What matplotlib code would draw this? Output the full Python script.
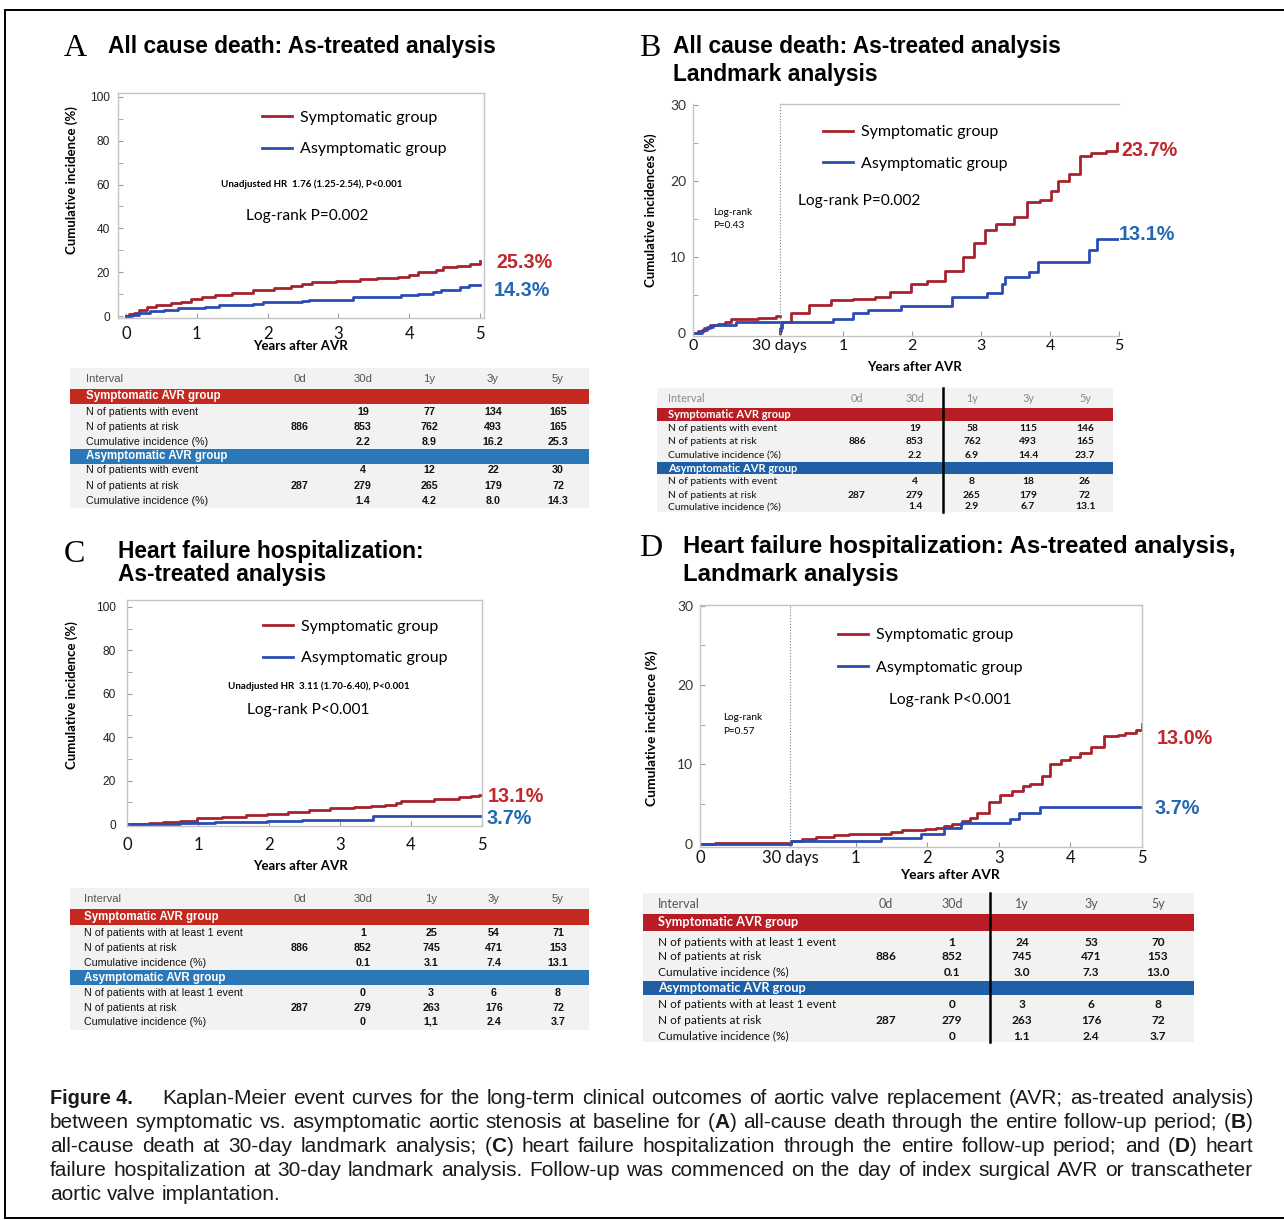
import numpy as np
import matplotlib
matplotlib.use("Agg")
import matplotlib.pyplot as plt
from matplotlib.patches import Rectangle
from matplotlib.lines import Line2D
from matplotlib.ticker import FixedLocator

# ---------------------------------------------------------------- data
LANDMARK_YR = 30 / 365.0

group_labels = ["Symptomatic group", "Asymptomatic group"]

# Panel A: all-cause death, whole follow-up (years, cumulative %)
A_sym_t = [0, 0.04, 0.12, 0.19, 0.29, 0.43, 0.63, 0.77, 0.92, 1.07, 1.26, 1.5, 1.8, 2.09,
           2.33, 2.48, 2.62, 2.96, 3.3, 3.55, 3.84, 3.99, 4.13, 4.38, 4.47, 4.67, 4.86, 5.0]
A_sym_v = [0, 0.8, 1.6, 2.8, 3.9, 5.0, 6.0, 6.6, 7.6, 8.5, 9.4, 10.6, 11.8, 12.6,
           13.5, 14.6, 15.4, 16.1, 16.7, 17.3, 18.0, 18.9, 20.0, 20.9, 22.2, 22.8, 23.6, 24.9]
A_asym_t = [0, 0.09, 0.19, 0.34, 0.53, 0.73, 1.11, 1.31, 1.8, 1.94, 2.48, 2.58, 3.21, 3.89,
            4.13, 4.33, 4.45, 4.72, 4.84, 5.0]
A_asym_v = [0, 0.3, 1.6, 2.2, 2.8, 3.5, 4.1, 5.0, 5.5, 6.3, 6.8, 7.4, 8.5, 9.4,
            10.2, 11.0, 12.0, 13.1, 14.2, 14.2]

# Panel B: all-cause death, 30-day landmark
B_sym_days1 = [0, 1.7, 3.8, 5.8, 8.5, 11, 13, 22.6, 28.6, 30]
B_sym_v1 = [0, 0.3, 0.6, 1.0, 1.2, 1.5, 1.9, 2.0, 2.2, 2.2]
B_asym_days1 = [0, 3, 5, 7, 14.8, 30]
B_asym_v1 = [0, 0.4, 0.8, 1.0, 1.4, 1.4]
B_sym_t2 = [LANDMARK_YR, 0.09, 0.12, 0.24, 0.5, 0.82, 1.14, 1.46, 1.68, 1.99, 2.21, 2.47, 2.74,
            2.9, 3.06, 3.22, 3.48, 3.67, 3.86, 4.02, 4.12, 4.28, 4.44, 4.6, 4.81, 4.97, 5.0]
B_sym_v2 = [0, 0.6, 1.5, 2.6, 3.7, 4.3, 4.4, 4.7, 5.4, 6.4, 6.8, 8.2, 10.0,
            11.8, 13.5, 14.3, 15.3, 17.2, 17.5, 18.6, 20.0, 20.9, 23.2, 23.7, 23.9, 25.0, 25.0]
B_asym_t2 = [LANDMARK_YR, 0.1, 0.85, 1.14, 1.36, 1.84, 2.58, 3.09, 3.30, 3.35, 3.70, 3.83, 4.57, 4.68, 5.0]
B_asym_v2 = [0.3, 1.4, 1.9, 2.6, 3.0, 3.5, 4.7, 5.2, 6.4, 7.3, 8.0, 9.3, 10.9, 12.3, 12.3]

# Panel C: heart failure hospitalization, whole follow-up
C_sym_t = [0, 0.31, 0.5, 0.75, 0.99, 1.34, 1.68, 1.97, 2.27, 2.56, 2.86, 3.2, 3.44, 3.64,
           3.79, 3.86, 4.18, 4.32, 4.67, 4.84, 4.96, 5.0]
C_sym_v = [0, 0.3, 0.9, 1.5, 2.6, 3.4, 4.0, 4.8, 5.7, 6.5, 7.2, 7.7, 8.2, 8.9,
           9.7, 10.6, 10.8, 11.4, 12.3, 13.1, 13.4, 13.4]
C_asym_t = [0, 0.41, 0.75, 1.24, 1.97, 2.46, 3.47, 5.0]
C_asym_v = [0, 0.2, 0.6, 1.1, 1.5, 2.0, 3.6, 3.6]

# Panel D: heart failure hospitalization, 30-day landmark
D_sym_days1 = [0, 5, 30]
D_sym_v1 = [0, 0.1, 0.1]
D_asym_days1 = [0, 30]
D_asym_v1 = [0, 0]
D_sym_t2 = [LANDMARK_YR, 0.1, 0.25, 0.44, 0.7, 0.91, 1.23, 1.49, 1.65, 1.97, 2.12, 2.23, 2.34, 2.49,
            2.6, 2.7, 2.86, 3.02, 3.18, 3.34, 3.44, 3.6, 3.71, 3.87, 4.0, 4.13, 4.29, 4.47,
            4.66, 4.76, 4.92, 5.0]
D_sym_v2 = [0, 0.3, 0.6, 0.9, 1.1, 1.3, 1.3, 1.5, 1.7, 1.9, 2.0, 2.2, 2.5, 2.9,
            3.2, 3.9, 5.3, 6.2, 6.6, 7.3, 7.6, 8.6, 10.1, 10.6, 11.0, 11.5, 12.2, 13.6,
            13.7, 14.0, 14.3, 15.1]
D_asym_t2 = [LANDMARK_YR, 0.1, 1.36, 1.91, 2.23, 2.47, 3.15, 3.28, 3.58, 5.0]
D_asym_v2 = [0, 0.4, 0.7, 1.2, 2.0, 2.6, 3.1, 3.9, 4.7, 4.7]

# Tables
table_cols = ["0d", "30d", "1y", "3y", "5y"]
rows_death = ["N of patients with event", "N of patients at risk", "Cumulative incidence (%)"]
rows_hf = ["N of patients with at least 1 event", "N of patients at risk", "Cumulative incidence (%)"]

A_sym_event = ["", "19", "77", "134", "165"]
A_sym_risk = ["886", "853", "762", "493", "165"]
A_sym_cum = ["", "2.2", "8.9", "16.2", "25.3"]
A_asym_event = ["", "4", "12", "22", "30"]
A_asym_risk = ["287", "279", "265", "179", "72"]
A_asym_cum = ["", "1.4", "4.2", "8.0", "14.3"]

B_sym_event = ["", "19", "58", "115", "146"]
B_sym_risk = ["886", "853", "762", "493", "165"]
B_sym_cum = ["", "2.2", "6.9", "14.4", "23.7"]
B_asym_event = ["", "4", "8", "18", "26"]
B_asym_risk = ["287", "279", "265", "179", "72"]
B_asym_cum = ["", "1.4", "2.9", "6.7", "13.1"]

C_sym_event = ["", "1", "25", "54", "71"]
C_sym_risk = ["886", "852", "745", "471", "153"]
C_sym_cum = ["", "0.1", "3.1", "7.4", "13.1"]
C_asym_event = ["", "0", "3", "6", "8"]
C_asym_risk = ["287", "279", "263", "176", "72"]
C_asym_cum = ["", "0", "1,1", "2.4", "3.7"]

D_sym_event = ["", "1", "24", "53", "70"]
D_sym_risk = ["886", "852", "745", "471", "153"]
D_sym_cum = ["", "0.1", "3.0", "7.3", "13.0"]
D_asym_event = ["", "0", "3", "6", "8"]
D_asym_risk = ["287", "279", "263", "176", "72"]
D_asym_cum = ["", "0", "1.1", "2.4", "3.7"]

caption_lines = [
    "Kaplan-Meier event curves for the long-term clinical outcomes of aortic valve replacement (AVR; as-treated analysis)",
    "between symptomatic vs. asymptomatic aortic stenosis at baseline for (**A**) all-cause death through the entire follow-up period; (**B**)",
    "all-cause death at 30-day landmark analysis; (**C**) heart failure hospitalization through the entire follow-up period; and (**D**) heart",
    "failure hospitalization at 30-day landmark analysis. Follow-up was commenced on the day of index surgical AVR or transcatheter",
    "aortic valve implantation.",
]

# ---------------------------------------------------------------- style
RED_LINE = "#a6232d"
BLUE_LINE = "#2b4cb3"
RED_TXT = "#c1272d"
BLUE_TXT = "#2468b2"
SPINE = "#c4c4c4"
ARIAL = "Liberation Sans"
CALI = "Lato"
SERIF = "Liberation Serif"
plt.rcParams["font.family"] = [ARIAL, "DejaVu Sans"]

TITLE_FS = 16.4
LETTER_FS = 23

W, H = 1284, 1220
fig = plt.figure(figsize=(W / 100, H / 100), dpi=100)
fig.patch.set_facecolor("white")


def fx(x):
    return x / W


def fy(y):
    return 1 - y / H


def axes_px(l, t, r, b):
    ax = fig.add_axes([fx(l), fy(b), (r - l) / W, (b - t) / H])
    ax.pxbox = (l, t, r, b)
    return ax


def ftext(x, y, s, **kw):
    kw.setdefault("va", "center")
    kw.setdefault("ha", "left")
    return fig.text(fx(x), fy(y), s, **kw)


def set_labels(ax, xlabel, xc, ylabel, yl_x, yl_y, fs):
    l, t, r, b = ax.pxbox
    ax.set_xlabel(xlabel, family=CALI, weight="bold", fontsize=fs)
    ax.xaxis.set_label_coords((xc[0] - l) / (r - l), (b - xc[1]) / (b - t))
    ax.xaxis.label.set_va("center")
    ax.xaxis.label.set_ha("center")
    ax.set_ylabel(ylabel, family=CALI, weight="bold", fontsize=fs)
    ax.yaxis.set_label_coords((yl_x - l) / (r - l), (b - yl_y) / (b - t))
    ax.yaxis.label.set_va("center")
    ax.yaxis.label.set_ha("center")


def make_scale(k):
    def fwd(x):
        x = np.asarray(x, dtype=float)
        return np.where(x < LANDMARK_YR, x / LANDMARK_YR * k, k + (x - LANDMARK_YR))

    def inv(u):
        u = np.asarray(u, dtype=float)
        return np.where(u < k, u / k * LANDMARK_YR, u - k + LANDMARK_YR)
    return fwd, inv


def legend_at(ax, handles, x, y, fs=11.5, spacing=1.06):
    ax.legend(handles=handles, loc="center left", bbox_to_anchor=(fx(x), fy(y)),
              bbox_transform=fig.transFigure, frameon=False,
              prop={"family": CALI, "size": fs}, handlelength=1.9, handletextpad=0.45,
              labelspacing=spacing, borderpad=0, borderaxespad=0)


def full_axes_style(ax, xt_fs, yt_fs, yfam, xpad, ypad):
    for s in ax.spines.values():
        s.set_color(SPINE)
        s.set_linewidth(1.0)
    ax.tick_params(axis="both", which="both", direction="in", color="#9a9a9a", length=3.5)
    ax.tick_params(axis="x", labelsize=xt_fs, pad=xpad, labelcolor="#111111")
    ax.tick_params(axis="y", labelsize=yt_fs, pad=ypad, labelcolor="#222222")
    for t in ax.get_xticklabels():
        t.set_family(CALI)
    for t in ax.get_yticklabels():
        t.set_family(yfam)


# ---------------------------------------------------------------- panel A
axA = axes_px(118, 93, 484, 318)
lA1, = axA.step(A_sym_t, A_sym_v, where="post", color=RED_LINE, lw=2.0, label=group_labels[0])
lA2, = axA.step(A_asym_t, A_asym_v, where="post", color=BLUE_LINE, lw=2.0, label=group_labels[1])
axA.set_xlim(-0.113, 5.056)
axA.set_ylim(-0.9, 101.8)
axA.set_xticks([0, 1, 2, 3, 4, 5])
axA.set_yticks([0, 20, 40, 60, 80, 100])
axA.yaxis.set_minor_locator(FixedLocator([10, 30, 50, 70, 90]))
full_axes_style(axA, 12, 8.6, ARIAL, 6, 6)
set_labels(axA, "Years after AVR", (300, 346), "Cumulative incidence (%)", 72, 180, 9.5)
legend_at(axA, [lA1, lA2], 262, 133.5)
ftext(221, 184, "Unadjusted HR  1.76 (1.25-2.54), P<0.001", family=CALI, weight="bold", fontsize=7)
ftext(246, 216, "Log-rank P=0.002", family=CALI, fontsize=11.2)
ftext(496, 262, "25.3%", weight="bold", fontsize=14.2, color=RED_TXT)
ftext(494, 291, "14.3%", weight="bold", fontsize=14.2, color=BLUE_TXT)
ftext(64, 49, "A", family=SERIF, fontsize=LETTER_FS)
ftext(108, 47, "All cause death: As-treated analysis", weight="bold", fontsize=TITLE_FS)

# ---------------------------------------------------------------- panel C
axC = axes_px(127, 600, 482, 826)
lC1, = axC.step(C_sym_t, C_sym_v, where="post", color=RED_LINE, lw=2.0, label=group_labels[0])
lC2, = axC.step(C_asym_t, C_asym_v, where="post", color=BLUE_LINE, lw=2.0, label=group_labels[1])
axC.set_xlim(0, 5)
axC.set_ylim(-0.9, 103.2)
axC.set_xticks([0, 1, 2, 3, 4, 5])
axC.set_yticks([0, 20, 40, 60, 80, 100])
axC.yaxis.set_minor_locator(FixedLocator([10, 30, 50, 70, 90]))
full_axes_style(axC, 12, 8.6, ARIAL, 8, 8)
set_labels(axC, "Years after AVR", (300, 866), "Cumulative incidence (%)", 72, 695, 9.5)
legend_at(axC, [lC1, lC2], 263, 642.5)
ftext(228, 686, "Unadjusted HR  3.11 (1.70-6.40), P<0.001", family=CALI, weight="bold", fontsize=7)
ftext(247, 710, "Log-rank P<0.001", family=CALI, fontsize=11.2)
ftext(488, 796, "13.1%", weight="bold", fontsize=14.2, color=RED_TXT)
ftext(486, 819, "3.7%", weight="bold", fontsize=14.2, color=BLUE_TXT)
ftext(64, 555, "C", family=SERIF, fontsize=LETTER_FS)
ftext(118, 552, "Heart failure hospitalization:", weight="bold", fontsize=TITLE_FS)
ftext(118, 575, "As-treated analysis", weight="bold", fontsize=TITLE_FS)


# ---------------------------------------------------------------- landmark panels
def landmark_panel(box, k, ylim_top, days1, v1, days1b, v1b, t2, v2, t2b, v2b, full_box, xt_fs):
    ax = axes_px(*box)
    ax.set_xscale("function", functions=make_scale(k))
    ax.step(np.asarray(days1) / 365.0, v1, where="post", color=RED_LINE, lw=2.0)
    ax.step(np.asarray(days1b) / 365.0, v1b, where="post", color=BLUE_LINE, lw=2.0)
    h1, = ax.step(t2, v2, where="post", color=RED_LINE, lw=2.0, label=group_labels[0])
    h2, = ax.step(t2b, v2b, where="post", color=BLUE_LINE, lw=2.0, label=group_labels[1])
    ax.set_xlim(0, 5)
    ax.set_ylim(-0.4, ylim_top)
    ax.axvline(LANDMARK_YR, color="#808080", lw=0.8, ls=(0, (1, 1.6)))
    ax.set_xticks([0, LANDMARK_YR, 1, 2, 3, 4, 5])
    ax.set_xticklabels(["0", "30 days", "1", "2", "3", "4", "5"])
    ax.xaxis.set_minor_locator(FixedLocator([]))
    ax.set_yticks([0, 10, 20, 30])
    ax.yaxis.set_minor_locator(FixedLocator([5, 15, 25]))
    for s in ax.spines.values():
        s.set_color(SPINE)
        s.set_linewidth(1.0)
    if not full_box:
        ax.spines["right"].set_visible(False)
        ax.spines["top"].set_bounds(LANDMARK_YR, 5)
    ax.tick_params(axis="both", which="both", direction="in", color="#9a9a9a", length=3.5)
    ax.tick_params(axis="x", labelsize=xt_fs, pad=2, labelcolor="#111111")
    ax.tick_params(axis="y", labelsize=10, pad=5, labelcolor="#333333")
    for t in ax.get_xticklabels() + ax.get_yticklabels():
        t.set_family(CALI)
    return ax, h1, h2


axB, hB1, hB2 = landmark_panel((693, 104, 1119, 336), 1.26, 30.1,
                               B_sym_days1, B_sym_v1, B_asym_days1, B_asym_v1,
                               B_sym_t2, B_sym_v2, B_asym_t2, B_asym_v2, False, 11.5)
set_labels(axB, "Years after AVR", (914, 367), "Cumulative incidences (%)", 651, 210, 9.5)
legend_at(axB, [hB1, hB2], 823, 148, spacing=1.1)
ftext(798, 201, "Log-rank P=0.002", family=CALI, fontsize=11.2)
ftext(713, 212, "Log-rank", family=CALI, fontsize=7.2)
ftext(713, 225, "P=0.43", family=CALI, fontsize=7.2)
ftext(1121, 151, "23.7%", weight="bold", fontsize=14.2, color=RED_TXT)
ftext(1119, 234, "13.1%", weight="bold", fontsize=14.2, color=BLUE_TXT)
ftext(639, 49, "B", family=SERIF, fontsize=LETTER_FS)
ftext(673, 47, "All cause death: As-treated analysis", weight="bold", fontsize=TITLE_FS)
ftext(673, 74, "Landmark analysis", weight="bold", fontsize=TITLE_FS)

axD, hD1, hD2 = landmark_panel((700, 605, 1142, 847), 1.257, 30.1,
                               D_sym_days1, D_sym_v1, D_asym_days1, D_asym_v1,
                               D_sym_t2, D_sym_v2, D_asym_t2, D_asym_v2, True, 12)
set_labels(axD, "Years after AVR", (950, 875), "Cumulative incidence (%)", 652, 728, 10)
legend_at(axD, [hD1, hD2], 838, 651.5, spacing=1.15)
ftext(889, 700, "Log-rank P<0.001", family=CALI, fontsize=11.2)
ftext(723, 718, "Log-rank", family=CALI, fontsize=7.2)
ftext(723, 732, "P=0.57", family=CALI, fontsize=7.2)
ftext(1157, 738, "13.0%", weight="bold", fontsize=14.2, color=RED_TXT)
ftext(1154, 809, "3.7%", weight="bold", fontsize=14.2, color=BLUE_TXT)
ftext(639, 549, "D", family=SERIF, fontsize=LETTER_FS)
ftext(683, 546, "Heart failure hospitalization: As-treated analysis,", weight="bold", fontsize=17.2)
ftext(683, 575, "Landmark analysis", weight="bold", fontsize=17.2)


# ---------------------------------------------------------------- tables
def rect(x0, y0, x1, y1, color):
    fig.patches.append(Rectangle((fx(x0), fy(y1)), (x1 - x0) / W, (y1 - y0) / H,
                                 transform=fig.transFigure, facecolor=color,
                                 edgecolor="none", zorder=0))


def draw_table(box, header_y, band1, rows1, band2, rows2, label_x, col_x, row_labels,
               sym, asym, fam, fs, hdr_col, red, blue, vline=None):
    x0, y0, x1, y1 = box
    rect(x0, y0, x1, y1, "#f2f2f2")
    ftext(label_x, header_y, "Interval", family=fam, fontsize=fs + 0.4, color=hdr_col)
    for c, x in zip(table_cols, col_x):
        ftext(x, header_y, c, family=fam, fontsize=fs + 0.4, color=hdr_col, ha="center")
    for (bt, bb), rows, vals, col, name in [
            (band1, rows1, sym, red, "Symptomatic AVR group"),
            (band2, rows2, asym, blue, "Asymptomatic AVR group")]:
        rect(x0, bt, x1, bb, col)
        ftext(label_x, (bt + bb) / 2, name, family=fam, fontsize=fs + 0.6, weight="bold", color="white")
        for ry, lab, rowvals in zip(rows, row_labels, vals):
            ftext(label_x, ry, lab, family=fam, fontsize=fs, color="#111111")
            for x, v in zip(col_x, rowvals):
                ftext(x, ry, v, family=fam, fontsize=fs, weight="bold", color="#111111", ha="center")
    if vline is not None:
        fig.add_artist(Line2D([fx(vline), fx(vline)], [fy(y0), fy(y1)], color="black", lw=1.8,
                              transform=fig.transFigure))


draw_table((70, 368, 589, 508), 379, (389, 404), [412, 427, 442], (449, 464), [470, 486, 501],
           86, [300, 363, 429, 493, 558], rows_death,
           [A_sym_event, A_sym_risk, A_sym_cum], [A_asym_event, A_asym_risk, A_asym_cum],
           ARIAL, 7.7, "#555555", "#c4291f", "#2b78b8")
draw_table((657, 388, 1113, 512), 399, (408, 421), [428, 442, 455], (462, 474), [482, 495, 507],
           668, [857, 915, 972, 1028, 1085], rows_death,
           [B_sym_event, B_sym_risk, B_sym_cum], [B_asym_event, B_asym_risk, B_asym_cum],
           CALI, 7.4, "#8a8a8a", "#b81c24", "#1f5fa6", vline=943)
draw_table((70, 888, 589, 1030), 899, (909, 925), [933, 948, 963], (970, 985), [993, 1008, 1022],
           84, [300, 363, 431, 494, 558], rows_hf,
           [C_sym_event, C_sym_risk, C_sym_cum], [C_asym_event, C_asym_risk, C_asym_cum],
           ARIAL, 7.7, "#555555", "#c4291f", "#2b78b8")
draw_table((643, 893, 1194, 1042), 904, (914, 931), [942, 957, 972], (981, 995), [1005, 1020, 1036],
           658, [886, 952, 1022, 1091, 1158], rows_hf,
           [D_sym_event, D_sym_risk, D_sym_cum], [D_asym_event, D_asym_risk, D_asym_cum],
           CALI, 8.6, "#555555", "#b81c24", "#1f5fa6", vline=990)

# ---------------------------------------------------------------- caption
CAP_COL = "#1a1a1a"
renderer = fig.canvas.get_renderer()


def measure(s, bold, fs):
    t = fig.text(0, 0, s, fontsize=fs, family=ARIAL, weight="bold" if bold else "normal")
    w = t.get_window_extent(renderer=renderer).width
    t.remove()
    return w


def parse(line):
    out = []
    for word in line.split(" "):
        parts = word.split("**")
        out.append([(p, i % 2 == 1) for i, p in enumerate(parts) if p])
    return out


def natural_width(line, fs):
    words = parse(line)
    sp = measure("a a", False, fs) - measure("aa", False, fs)
    return sum(measure(p, b, fs) for pcs in words for p, b in pcs) + sp * (len(words) - 1)


base = 14.3
spans = [(162, 1253), (50, 1253), (50, 1253), (50, 1253)]
ratio = min((r - l) / natural_width(ln, base) for ln, (l, r) in zip(caption_lines[:4], spans))
CAP_FS = base * ratio * 0.995


def draw_line(line, x_left, x_right, y, justify=True):
    parsed = parse(line)
    widths = [[measure(p, b, CAP_FS) for p, b in pcs] for pcs in parsed]
    total = sum(sum(ws) for ws in widths)
    if justify:
        gap = (x_right - x_left - total) / (len(parsed) - 1)
    else:
        gap = measure("a a", False, CAP_FS) - measure("aa", False, CAP_FS)
    x = x_left
    for pcs, ws in zip(parsed, widths):
        for (p, b), w in zip(pcs, ws):
            ftext(x, y, p, fontsize=CAP_FS, family=ARIAL, weight="bold" if b else "normal", color=CAP_COL)
            x += w
        x += gap


ftext(50, 1098, "Figure 4.", fontsize=14.3, weight="bold", color=CAP_COL)
cap_y = [1098, 1122, 1146, 1170, 1194]
draw_line(caption_lines[0], 162, 1253, cap_y[0])
for ln, yy in zip(caption_lines[1:4], cap_y[1:4]):
    draw_line(ln, 50, 1253, yy)
draw_line(caption_lines[4], 50, 1253, cap_y[4], justify=False)

# ---------------------------------------------------------------- outer frame
for xs, ys in [([5, 5], [10, 1218]), ([5, 1284], [10, 10]), ([5, 1284], [1218, 1218])]:
    fig.add_artist(Line2D([fx(v) for v in xs], [fy(v) for v in ys], color="black", lw=1.4,
                          transform=fig.transFigure))

fig.savefig("out.png", dpi=100)
